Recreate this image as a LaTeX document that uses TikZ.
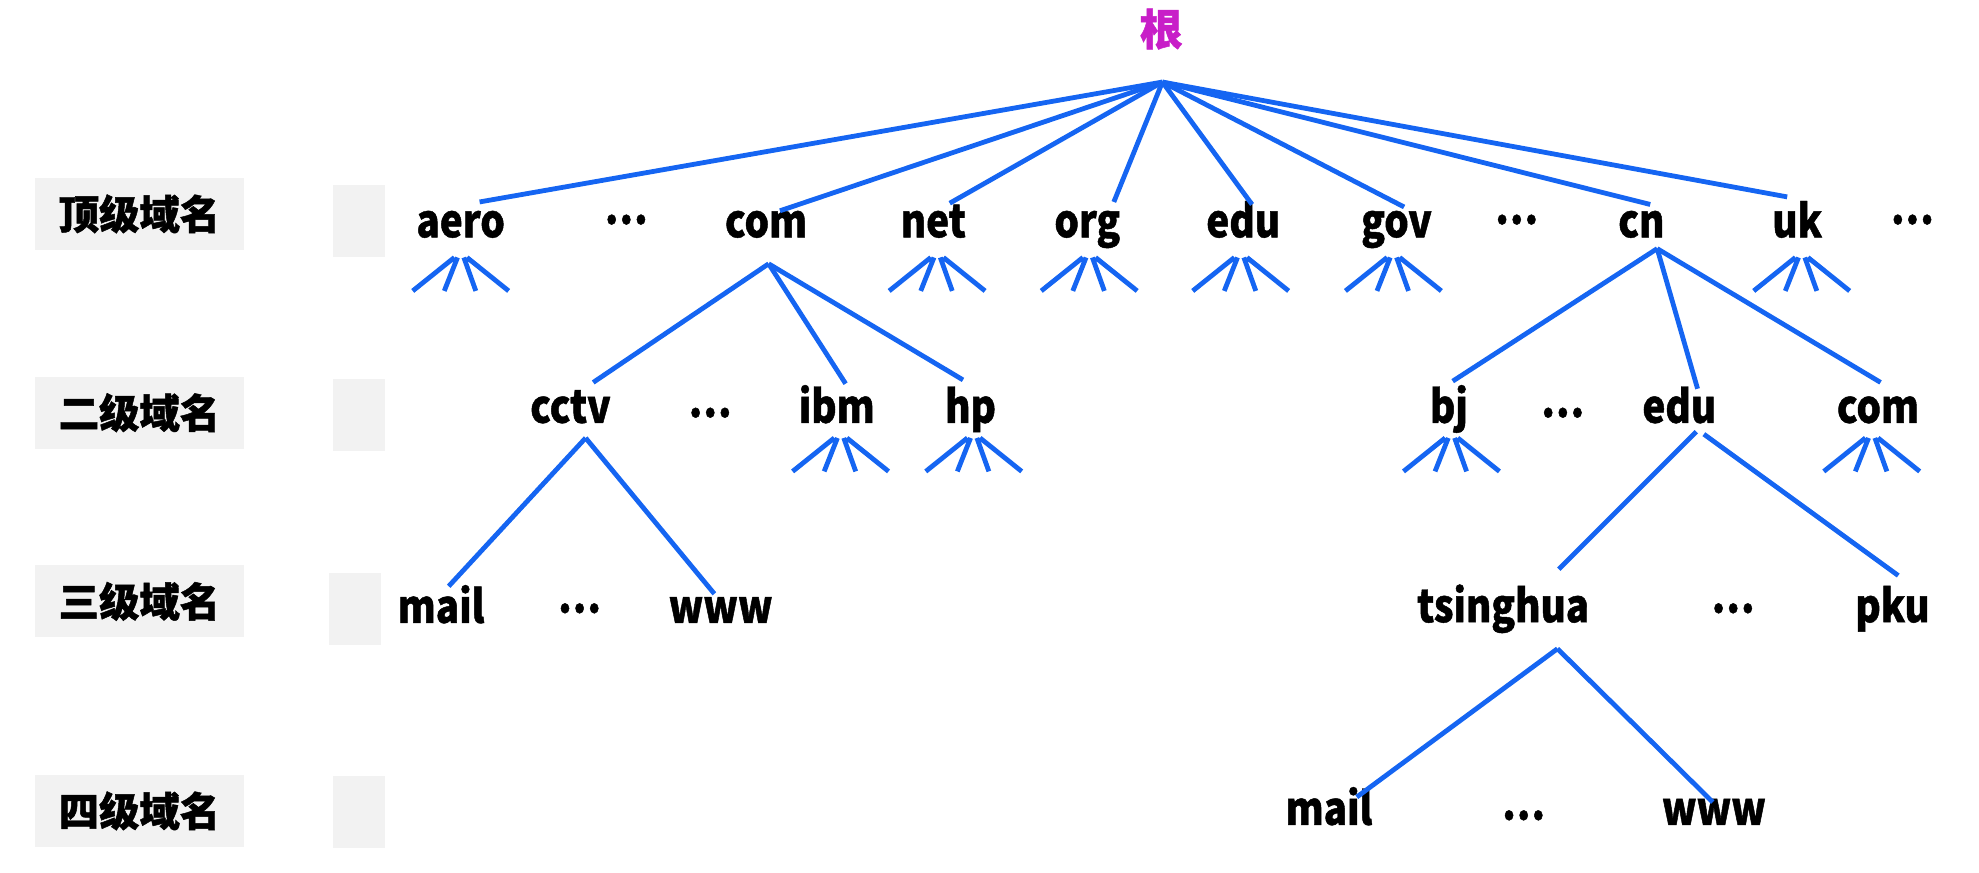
\documentclass[tikz,border=0pt]{standalone}
\usepackage{fontspec}
\setmainfont{Noto Sans CJK SC}
% narrow, heavy face for the domain names, heavier face for the captions
\newfontfamily\domfont{Noto Sans CJK SC}[BoldFeatures={FakeStretch=0.85,FakeBold=1}]
\newfontfamily\capfont{Noto Sans CJK SC}[BoldFeatures={FakeBold=1.2}]
\definecolor{dnsblue}{HTML}{1565F2}
\definecolor{rootmag}{HTML}{C81EC8}
\definecolor{panelgray}{HTML}{F2F2F2}

% four short branches hanging under a domain: #1 node, #2 x offset, #3 y offset of the tops
\newcommand\dnsfan[3]{%
  \draw[link] ([shift={(#2-5,#3)}]#1.base) -- ++(-33,26.5)
              ([shift={(#2-2.5,#3)}]#1.base) -- ++(-10.5,26.5)
              ([shift={(#2+2.5,#3)}]#1.base) -- ++(9.5,26.5)
              ([shift={(#2+5,#3)}]#1.base) -- ++(33,26.5);}

\begin{document}
\begin{tikzpicture}[x=0.5pt,y=-0.5pt,
  link/.style={draw=dnsblue,line width=1.9pt},
  dom/.style={anchor=base,inner sep=0pt,font=\domfont\fontsize{18}{20}\selectfont\bfseries},
  more/.style={inner sep=0pt,font=\domfont\fontsize{18}{20}\selectfont\bfseries},
  lvlbox/.style={fill=panelgray,minimum width=82.5pt,minimum height=28.5pt,inner sep=0pt,
                 font=\capfont\fontsize{16}{18}\selectfont\bfseries},
  stub/.style={fill=panelgray,minimum width=20.5pt,minimum height=28.5pt,inner sep=0pt},
  rootlbl/.style={inner sep=0pt,text=rootmag,font=\capfont\fontsize{17}{19}\selectfont\bfseries},
]
\useasboundingbox (0,0) rectangle (1568,691);

% level captions on the left
\node[lvlbox] (lv1) at (110.5,169.5) {顶级域名};
\node[lvlbox] (lv2) at (110.5,327) {二级域名};
\node[lvlbox] (lv3) at (110.5,476.5) {三级域名};
\node[lvlbox] (lv4) at (110.5,642.5) {四级域名};
\node[stub] (st1) at (284.5,175) {};
\node[stub] (st2) at (284.5,328.5) {};
\node[stub] (st3) at (281.5,482.5) {};
\node[stub] (st4) at (284.5,643.5) {};

% root
\node[rootlbl] (root) at (920,23) {根};

% top-level domains
\node[dom] (aero) at (365,188) {aero};
\node[more] (dotsA) at (496,174) {…};
\node[dom] (com) at (607,188) {com};
\node[dom] (net) at (739.5,188) {net};
\node[dom] (org) at (861.5,188) {org};
\node[dom] (edu) at (985,188) {edu};
\node[dom] (gov) at (1106.5,188) {gov};
\node[more] (dotsB) at (1201.5,174) {…};
\node[dom] (cn) at (1300.5,188) {cn};
\node[dom] (uk) at (1424,188) {uk};
\node[more] (dotsC) at (1515,174) {…};

% second-level domains
\node[dom] (cctv) at (452,335) {cctv};
\node[more] (dotsD) at (562.5,327) {…};
\node[dom] (ibm) at (663,335) {ibm};
\node[dom] (hp) at (769,335) {hp};
\node[dom] (bj) at (1148,335) {bj};
\node[more] (dotsE) at (1238,327) {…};
\node[dom] (cnedu) at (1330.5,335) {edu};
\node[dom] (cncom) at (1488,335) {com};

% third-level domains
\node[dom] (mailA) at (349.5,493.5) {mail};
\node[more] (dotsF) at (459,482) {…};
\node[dom] (wwwA) at (571,493.5) {www};
\node[dom] (tsinghua) at (1191,493) {tsinghua};
\node[more] (dotsG) at (1373,482) {…};
\node[dom] (pku) at (1499.5,493) {pku};

% fourth-level domains
\node[dom] (mailB) at (1053,653.5) {mail};
\node[more] (dotsH) at (1207,646) {…};
\node[dom] (wwwB) at (1358,653.5) {www};

% root to top-level domains
\draw[link] ([shift={(1,42)}]root.center) -- ([shift={(15,-28)}]aero.base);
\draw[link] ([shift={(1,42)}]root.center) -- ([shift={(11,-21)}]com.base);
\draw[link] ([shift={(1,42)}]root.center) -- ([shift={(13,-27)}]net.base);
\draw[link] ([shift={(1,42)}]root.center) -- ([shift={(21,-28)}]org.base);
\draw[link] ([shift={(1,42)}]root.center) -- ([shift={(7,-26)}]edu.base);
\draw[link] ([shift={(1,42)}]root.center) -- ([shift={(6,-24)}]gov.base);
\draw[link] ([shift={(1,42)}]root.center) -- ([shift={(7,-26)}]cn.base);
\draw[link] ([shift={(1,42)}]root.center) -- ([shift={(-8,-32)}]uk.base);

% com branch
\draw[link] ([shift={(2,21)}]com.base) -- ([shift={(18,-32)}]cctv.base);
\draw[link] ([shift={(2,21)}]com.base) -- ([shift={(7,-31)}]ibm.base);
\draw[link] ([shift={(2,21)}]com.base) -- ([shift={(-6,-34)}]hp.base);

% cn branch
\draw[link] ([shift={(12.5,9)}]cn.base) -- ([shift={(3,-33)}]bj.base);
\draw[link] ([shift={(12.5,9)}]cn.base) -- ([shift={(14.5,-27)}]cnedu.base);
\draw[link] ([shift={(12.5,9)}]cn.base) -- ([shift={(2,-32)}]cncom.base);

% cctv branch
\draw[link] ([shift={(12,12)}]cctv.base) -- ([shift={(6,-29)}]mailA.base);
\draw[link] ([shift={(12,12)}]cctv.base) -- ([shift={(-5,-23)}]wwwA.base);

% edu.cn branch
\draw[link] ([shift={(13.5,7)}]cnedu.base) -- ([shift={(44,-42)}]tsinghua.base);
\draw[link] ([shift={(19.5,9)}]cnedu.base) -- ([shift={(4.5,-37)}]pku.base);

% tsinghua branch
\draw[link] ([shift={(43,21)}]tsinghua.base) -- ([shift={(22,-22)}]mailB.base);
\draw[link] ([shift={(43,21)}]tsinghua.base) -- ([shift={(-1,-18)}]wwwB.base);

% open-ended subtrees
\dnsfan{aero}{0}{16}
\dnsfan{net}{3}{16}
\dnsfan{org}{1.5}{16}
\dnsfan{edu}{-2}{16}
\dnsfan{gov}{-2.5}{16}
\dnsfan{uk}{3.5}{16}
\dnsfan{ibm}{3}{12}
\dnsfan{hp}{2.5}{12}
\dnsfan{bj}{2}{12}
\dnsfan{cncom}{-5}{12}
\end{tikzpicture}
\end{document}
